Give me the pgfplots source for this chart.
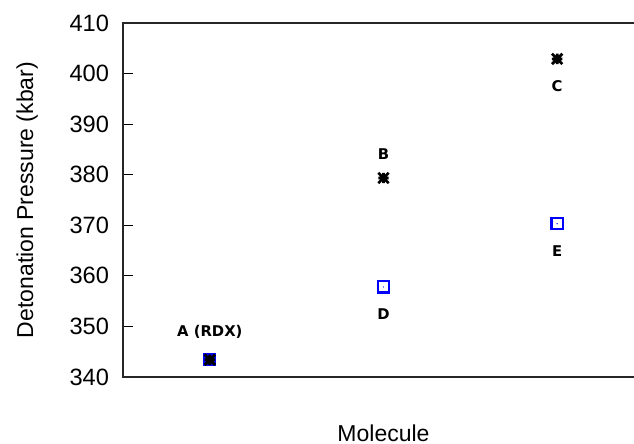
\documentclass[border=0pt]{standalone}
\usepackage{fontspec}
\setmainfont{Liberation Sans}
\newfontfamily\lblfont{DejaVu Sans}
\usepackage{pgfplots}
\pgfplotsset{compat=1.18}
\pgfdeclareplotmark{gpstar}{%
  \pgfpathmoveto{\pgfqpoint{-\pgfplotmarksize}{0pt}}\pgfpathlineto{\pgfqpoint{\pgfplotmarksize}{0pt}}%
  \pgfpathmoveto{\pgfqpoint{0pt}{-\pgfplotmarksize}}\pgfpathlineto{\pgfqpoint{0pt}{\pgfplotmarksize}}%
  \pgfpathmoveto{\pgfqpoint{-\pgfplotmarksize}{-\pgfplotmarksize}}\pgfpathlineto{\pgfqpoint{\pgfplotmarksize}{\pgfplotmarksize}}%
  \pgfpathmoveto{\pgfqpoint{-\pgfplotmarksize}{\pgfplotmarksize}}\pgfpathlineto{\pgfqpoint{\pgfplotmarksize}{-\pgfplotmarksize}}%
  \pgfusepathqstroke}
\pgfdeclareplotmark{gpsquare}{%
  \pgfpathrectangle{\pgfqpoint{-\pgfplotmarksize}{-\pgfplotmarksize}}{\pgfqpoint{2\pgfplotmarksize}{2\pgfplotmarksize}}%
  \pgfusepathqstroke
  \pgfpathcircle{\pgfpointorigin}{0.35pt}\pgfusepathqfill}
\begin{document}
\begin{tikzpicture}
\begin{axis}[
  scale only axis,
  width=260.5pt, height=177pt,
  at={(0,0)}, anchor=south west,
  xmin=0.5, xmax=3.5,
  ymin=340, ymax=410,
  ytick={340,350,...,410},
  xtick=\empty,
  tick align=inside,
  major tick length=5pt,
  axis line style={line width=1pt, black!85},
  every tick/.style={black, line width=0.6pt},
  tick label style={font=\fontsize{11.8}{13}\selectfont},
  /pgf/number format/assume math mode=true,
  yticklabel style={xshift=-3.5pt},
  ylabel={Detonation Pressure (kbar)},
  xlabel={Molecule},
  label style={font=\fontsize{11.5}{13}\selectfont},
  ylabel style={at={(axis description cs:-0.184,0.5)}, anchor=center},
  xlabel style={at={(axis description cs:0.5,-0.158)}, anchor=center},
  clip=false,
]
\addplot[only marks, mark=square*, mark size=2.8pt, blue, mark options={line width=1pt, fill=blue}] coordinates {(1,343.4)};
\addplot[only marks, mark=gpsquare, mark size=2.8pt, blue, mark options={line width=1.1pt}] coordinates {(2,357.8) (3,370.3)};
\addplot[only marks, mark=gpstar, mark size=2.6pt, black, mark options={line width=1.4pt}] coordinates {(1,343.4) (2,379.35) (3,402.9)};
\node[font=\lblfont\bfseries\fontsize{7.4}{9}\selectfont] at (axis cs:1,348.9) {A (RDX)};
\node[font=\lblfont\bfseries\fontsize{7.4}{9}\selectfont] at (axis cs:2,384.1) {B};
\node[font=\lblfont\bfseries\fontsize{7.4}{9}\selectfont] at (axis cs:2,352.5) {D};
\node[font=\lblfont\bfseries\fontsize{7.4}{9}\selectfont] at (axis cs:3,397.5) {C};
\node[font=\lblfont\bfseries\fontsize{7.4}{9}\selectfont] at (axis cs:3,364.9) {E};
\end{axis}
\pgfresetboundingbox
\useasboundingbox (-61.5pt,-33.5pt) rectangle (255.5pt,188.5pt);
\end{tikzpicture}
\end{document}
